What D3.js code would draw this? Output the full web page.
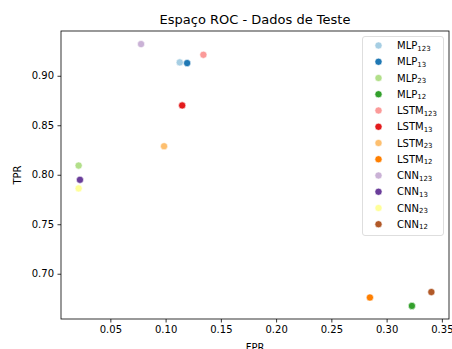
<!DOCTYPE html>
<html>
<head>
<meta charset="utf-8">
<script src="https://cdn.jsdelivr.net/npm/d3@7"></script>
<style>
  body { margin: 0; background: #fff; }
  text { font-family: "DejaVu Sans", sans-serif; fill: #000; }
</style>
</head>
<body>
<svg id="chart" width="452" height="349"></svg>
<script>
// data
var models = ["MLP", "MLP", "MLP", "MLP", "LSTM", "LSTM", "LSTM", "LSTM", "CNN", "CNN", "CNN", "CNN"];
var subs = ["123", "13", "23", "12", "123", "13", "23", "12", "123", "13", "23", "12"];
var fpr = [0.1128, 0.1195, 0.0213, 0.3229, 0.1342, 0.1150, 0.0986, 0.2849, 0.0778, 0.0225, 0.0213, 0.3405];
var tpr = [0.9135, 0.9128, 0.8093, 0.6675, 0.9212, 0.8700, 0.8288, 0.6760, 0.9320, 0.7949, 0.7862, 0.6815];
var colors = ["#a6cee3", "#1f78b4", "#b2df8a", "#33a02c", "#fb9a99", "#e31a1c",
              "#fdbf6f", "#ff7f00", "#cab2d6", "#6a3d9a", "#ffff99", "#b15928"];
var xTicks = [0.05, 0.10, 0.15, 0.20, 0.25, 0.30, 0.35];
var yTicks = [0.70, 0.75, 0.80, 0.85, 0.90];

var svg = d3.select("#chart");
var pLeft = 61, pRight = 449, pTop = 31, pBottom = 319;

// matplotlib-ish 5% margins
var xr = d3.extent(fpr), yr = d3.extent(tpr);
var xm = (xr[1] - xr[0]) * 0.05, ym = (yr[1] - yr[0]) * 0.05;
var x = d3.scaleLinear().domain([xr[0] - xm, xr[1] + xm]).range([pLeft, pRight]);
var y = d3.scaleLinear().domain([yr[0] - ym, yr[1] + ym]).range([pBottom, pTop]);

var xAxis = svg.append("g")
    .attr("transform", "translate(0," + pBottom + ")")
    .call(d3.axisBottom(x).tickValues(xTicks).tickFormat(d3.format(".2f")).tickSize(3.5).tickPadding(3.5));
var yAxis = svg.append("g")
    .attr("transform", "translate(" + pLeft + ",0)")
    .call(d3.axisLeft(y).tickValues(yTicks).tickFormat(d3.format(".2f")).tickSize(3.5).tickPadding(3.5));
[xAxis, yAxis].forEach(function(a) {
    a.select(".domain").remove();
    a.selectAll("text").style("font-family", "DejaVu Sans").style("font-size", "10px").attr("fill", "#000");
    a.selectAll("line").attr("stroke", "#000").attr("stroke-width", 0.8);
});

// frame
svg.append("rect")
    .attr("x", pLeft).attr("y", pTop)
    .attr("width", pRight - pLeft).attr("height", pBottom - pTop)
    .attr("fill", "none").attr("stroke", "#000").attr("stroke-width", 0.8);

// points
svg.append("g").selectAll("circle")
    .data(fpr)
    .join("circle")
    .attr("cx", function(d) { return x(d); })
    .attr("cy", function(d, i) { return y(tpr[i]); })
    .attr("r", 3.6)
    .attr("fill", function(d, i) { return colors[i]; })
    .attr("stroke", "#fff").attr("stroke-width", 0.6);

// title and labels
svg.append("text")
    .attr("x", (pLeft + pRight) / 2).attr("y", 24)
    .attr("text-anchor", "middle").style("font-size", "13px")
    .text("Espaço ROC - Dados de Teste");
svg.append("text")
    .attr("x", (pLeft + pRight) / 2).attr("y", 351)
    .attr("text-anchor", "middle").style("font-size", "10px")
    .text("FPR");
svg.append("text")
    .attr("transform", "translate(21," + ((pTop + pBottom) / 2) + ") rotate(-90)")
    .attr("text-anchor", "middle").style("font-size", "10px")
    .text("TPR");

// legend
var legend = svg.append("g");
legend.append("rect")
    .attr("x", 362.5).attr("y", 36.5)
    .attr("width", 81).attr("height", 199)
    .attr("rx", 2.5)
    .attr("fill", "#fff").attr("fill-opacity", 0.8)
    .attr("stroke", "#d6d6d6").attr("stroke-width", 0.8);
var items = legend.selectAll("g.item")
    .data(models)
    .join("g")
    .attr("class", "item")
    .attr("transform", function(d, i) { return "translate(0," + (45.5 + i * 16.25) + ")"; });
items.append("circle")
    .attr("cx", 378.5).attr("cy", 0).attr("r", 3.6)
    .attr("fill", function(d, i) { return colors[i]; })
    .attr("stroke", "#fff").attr("stroke-width", 0.6);
var lt = items.append("text")
    .attr("x", 397).attr("y", 3.6)
    .style("font-size", "10px");
lt.append("tspan").text(function(d) { return d; });
lt.append("tspan")
    .attr("dy", 1.5)
    .style("font-size", "7px")
    .text(function(d, i) { return subs[i]; });
</script>
</body>
</html>
